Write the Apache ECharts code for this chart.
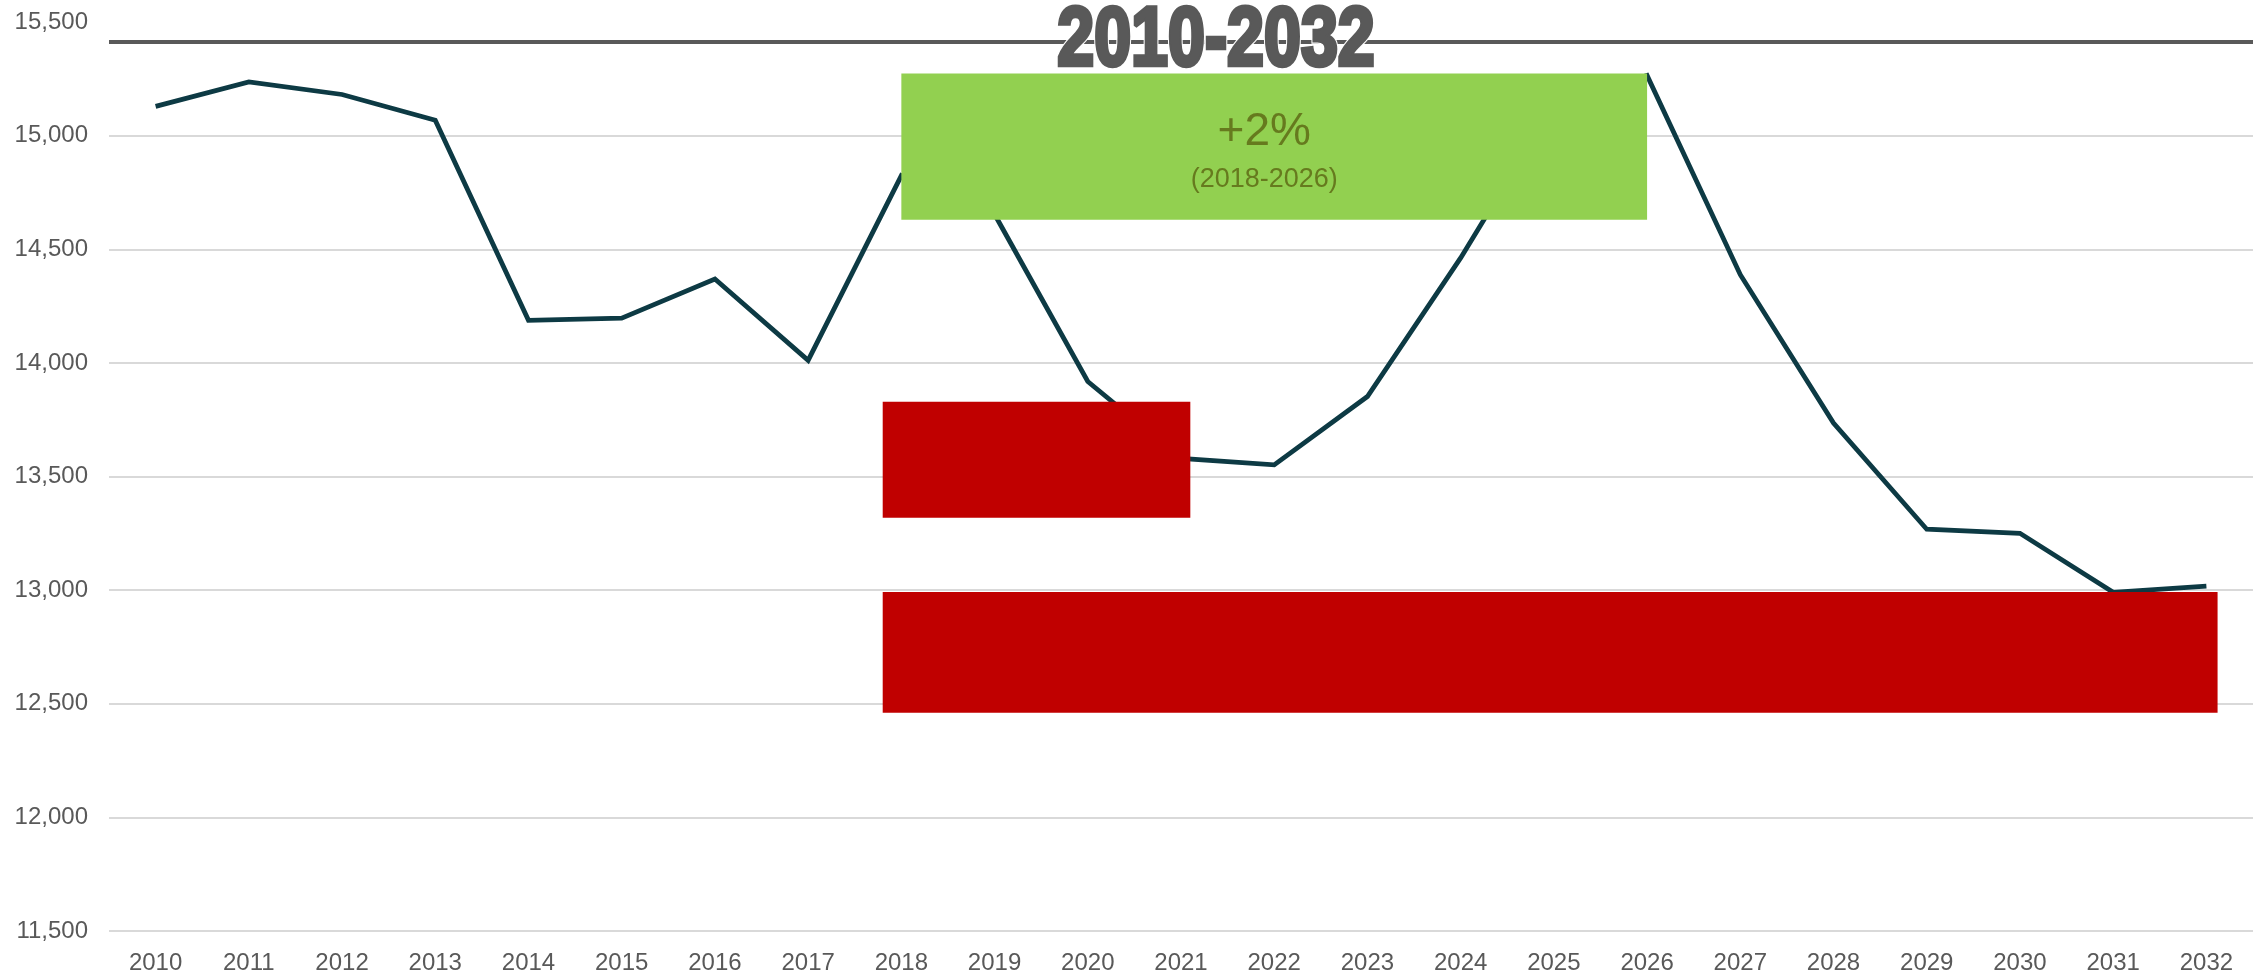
<!DOCTYPE html>
<html>
<head>
<meta charset="utf-8">
<title>2010-2032</title>
<script src="https://cdn.jsdelivr.net/npm/echarts@6/dist/echarts.min.js"></script>
<style>
  html, body { margin: 0; padding: 0; background: #ffffff; }
  #chart { width: 2262px; height: 976px; }
</style>
</head>
<body>
<div id="chart"></div>
<script>
// Yearly series 2010-2032
const years = ['2010','2011','2012','2013','2014','2015','2016','2017','2018','2019','2020',
               '2021','2022','2023','2024','2025','2026','2027','2028','2029','2030','2031','2032'];
const values = [15129, 15236, 15181, 15068, 14187, 14197, 14369, 14011, 14824, 14654, 13918,
                13580, 13551, 13852, 14462, 15135, 15265, 14388, 13735, 13268, 13250, 12990, 13018];

// Y axis ticks
const yMin = 11500;
const yMax = 15500;
const yStep = 500;

// Rule line under the heading (axis value)
const headingRuleValue = 15413;

// Highlight boxes, in axis units: [year from, year to, value top, value bottom]
const boxRanges = [
  [2018.0, 2026.0, 15273, 14630],
  [2017.8, 2021.1, 13829, 13319],
  [2017.8, 2032.12, 12992, 12460]
];
const growthLabel = '+2%';
const growthPeriod = '(2018-2026)';
const heading = '2010-2032';

const boxColors = ['#92D050', '#C00000', '#C00000'];
const labelFont = '"Liberation Sans", Arial, sans-serif';

const chart = echarts.init(document.getElementById('chart'), null, { renderer: 'canvas' });

chart.setOption({
  animation: false,
  backgroundColor: '#ffffff',
  grid: { left: 109, right: 9, top: 22, bottom: 45, containLabel: false },
  xAxis: [
    {
      type: 'category',
      data: years,
      boundaryGap: true,
      axisLine: { show: false },
      axisTick: { show: false },
      axisLabel: { color: '#595959', fontSize: 24, fontFamily: labelFont, margin: 20, interval: 0 },
      splitLine: { show: false }
    },
    {
      // continuous year scale aligned with the category bands, for the boxes
      type: 'value',
      min: 2009.5,
      max: 2032.5,
      show: false
    }
  ],
  yAxis: {
    type: 'value',
    min: yMin,
    max: yMax,
    interval: yStep,
    axisLine: { show: false },
    axisTick: { show: false },
    axisLabel: {
      color: '#595959', fontSize: 24, fontFamily: labelFont, margin: 21,
      formatter: v => v.toLocaleString('en-US')
    },
    splitLine: { showMaxLine: false, lineStyle: { color: '#d9d9d9', width: 2 } }
  },
  series: [
    {
      type: 'line',
      data: values,
      xAxisIndex: 0,
      symbol: 'none',
      z: 2,
      lineStyle: { color: '#0D3A44', width: 4.8, join: 'miter' },
      markLine: {
        silent: true,
        symbol: 'none',
        label: { show: false },
        lineStyle: { color: '#595959', width: 4, type: 'solid' },
        data: [{ yAxis: headingRuleValue }]
      }
    },
    {
      type: 'custom',
      xAxisIndex: 1,
      yAxisIndex: 0,
      z: 5,
      silent: true,
      data: boxRanges,
      encode: { x: [0, 1], y: [2, 3] },
      renderItem: function (params, api) {
        const p0 = api.coord([api.value(0), api.value(2)]);
        const p1 = api.coord([api.value(1), api.value(3)]);
        const children = [{
          type: 'rect',
          shape: { x: p0[0], y: p0[1], width: p1[0] - p0[0], height: p1[1] - p0[1] },
          style: { fill: boxColors[params.dataIndex] }
        }];
        if (params.dataIndex === 0) {
          const cx = (p0[0] + p1[0]) / 2 - 10;
          const cy = (p0[1] + p1[1]) / 2;
          children.push({
            type: 'text',
            x: cx, y: cy - 14,
            style: {
              text: growthLabel, fill: '#667A1E', font: '46px ' + labelFont,
              align: 'center', verticalAlign: 'middle'
            }
          });
          children.push({
            type: 'text',
            x: cx, y: cy + 33,
            style: {
              text: growthPeriod, fill: '#667A1E', font: '27px ' + labelFont,
              align: 'center', verticalAlign: 'middle'
            }
          });
        }
        return { type: 'group', children: children };
      }
    }
  ],
  graphic: [
    {
      type: 'text',
      x: 1216, y: 42,
      scaleX: 0.8,
      z: 99,
      silent: true,
      style: {
        text: heading, font: 'bold 83px ' + labelFont,
        fill: '#595959', stroke: '#ffffff', lineWidth: 7,
        align: 'center', verticalAlign: 'middle'
      }
    },
    {
      type: 'text',
      x: 1216, y: 42,
      scaleX: 0.8,
      z: 100,
      silent: true,
      style: {
        text: heading, font: 'bold 83px ' + labelFont,
        fill: '#595959', stroke: '#595959', lineWidth: 4.5,
        align: 'center', verticalAlign: 'middle'
      }
    }
  ]
});
</script>
</body>
</html>
